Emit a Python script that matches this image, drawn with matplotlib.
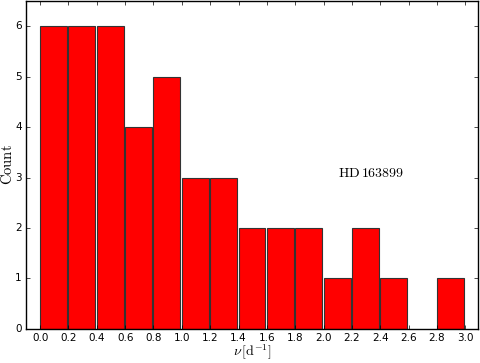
import matplotlib
matplotlib.use("Agg")
import matplotlib.pyplot as plt
import numpy as np

plt.style.use("classic")
plt.rcParams["mathtext.fontset"] = "cm"

# histogram of frequencies, bins of 0.2 d^-1
bin_edges = [0.0, 0.2, 0.4, 0.6, 0.8, 1.0, 1.2, 1.4, 1.6, 1.8, 2.0, 2.2, 2.4, 2.6, 2.8, 3.0]
counts = [6, 6, 6, 4, 5, 3, 3, 2, 2, 2, 1, 2, 1, 0, 1]
star = "HD\\,163899"

fig = plt.figure(figsize=(4.8, 3.63), dpi=100)
ax = fig.add_axes([0.054, 0.094, 0.942, 0.903])

widths = np.diff(bin_edges) * 0.95
bars = ax.bar(bin_edges[:-1], counts, width=widths, align="edge",
              color="red", edgecolor="#333333", linewidth=0.8)
for b, c in zip(bars, counts):
    if c == 0:
        b.set_visible(False)

ax.set_xlim(-0.1, 3.09)
ax.set_ylim(0, 6.5)
ax.set_xticks(np.arange(0, 3.01, 0.2))
ax.set_yticks(range(0, 7))
ax.tick_params(labelsize=7.5, length=3, pad=3)
ax.set_xlabel(r"$\nu\,[\mathrm{d}^{-1}]$", fontsize=10, labelpad=0)
ax.set_ylabel(r"$\mathrm{Count}$", fontsize=10.5, labelpad=0)
ax.text(2.1, 3.1, "$\\mathrm{" + star + "}$", fontsize=10, va="center", ha="left")

fig.savefig("out.png", dpi=100)
